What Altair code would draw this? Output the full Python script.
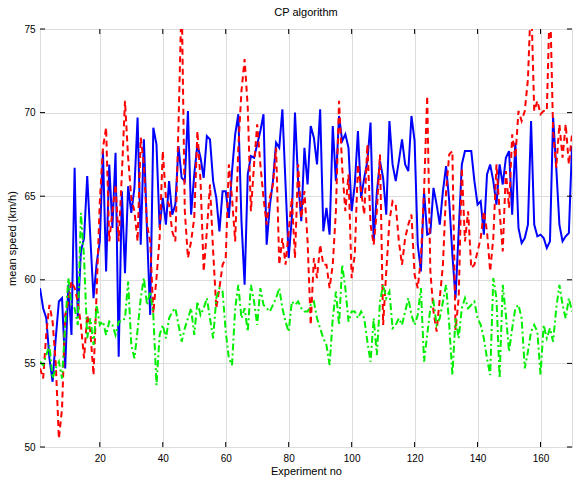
import altair as alt
import pandas as pd

blue = [59.5,58.3,57.7,55.3,53.9,56.5,58.7,58.9,54.7,59.7,
        56.7,66.7,57.7,61.7,62.5,66.2,62.5,58.9,61.0,62.3,
        67.7,60.5,66.9,63.1,67.6,55.4,65.3,60.4,65.6,64.0,
        65.5,69.7,62.1,68.4,62.9,57.9,69.1,68.1,63.1,64.9,
        63.3,65.9,63.9,64.5,68.0,66.1,65.9,70.1,63.9,66.3,
        68.1,67.3,66.1,68.6,68.4,65.9,64.9,62.9,65.3,65.3,
        63.7,66.5,68.7,69.9,63.5,59.7,66.3,67.4,67.3,68.1,
        68.9,69.9,62.1,64.4,65.9,68.2,67.9,70.2,65.7,61.3,
        63.7,70.0,65.9,63.5,67.9,65.7,69.2,68.5,66.9,70.2,
        62.9,64.3,62.7,69.2,65.9,69.8,68.3,68.7,67.9,64.1,
        65.7,68.9,64.9,66.1,67.1,69.4,62.3,65.2,67.1,66.1,
        63.9,69.5,66.9,65.9,67.1,68.4,66.9,66.5,69.8,68.3,
        62.1,60.5,65.3,62.7,62.8,65.5,64.5,63.3,65.3,66.8,
        64.7,61.5,58.9,62.9,66.9,67.7,67.7,67.7,65.9,64.5,
        64.7,62.7,66.3,66.9,65.9,64.5,66.9,65.7,67.3,67.7,
        63.9,68.2,63.1,62.2,62.5,63.3,69.5,63.3,62.6,62.7,
        62.5,61.9,62.3,69.7,66.7,63.3,62.3,62.6,62.8,68.0]

red = [54.7,54.1,56.8,58.5,57.5,55.0,50.5,52.3,57.9,58.7,
       59.9,59.5,58.7,57.3,55.3,57.9,56.9,54.3,59.3,64.7,
       67.9,69.1,62.3,64.1,65.7,62.3,66.3,70.7,67.3,64.9,
       64.1,62.3,68.5,66.9,63.3,62.3,58.0,60.1,62.5,67.7,
       64.9,64.5,62.9,62.3,69.3,77.0,64.1,61.3,62.3,63.7,
       68.9,65.9,60.5,62.9,65.7,61.7,58.3,59.5,60.9,61.3,
       66.9,64.9,62.3,67.9,71.3,73.2,70.3,64.1,66.9,69.3,
       66.9,64.9,63.3,64.9,65.7,67.9,60.9,62.5,60.9,62.9,
       64.9,61.3,66.9,63.7,65.3,62.3,57.3,61.3,60.1,62.1,
       60.9,60.9,59.5,60.9,64.1,70.7,66.7,64.1,66.3,60.1,
       61.5,66.9,65.3,63.9,68.1,63.3,62.1,64.1,67.5,57.3,
       60.5,63.5,64.7,64.5,62.3,60.9,62.5,63.3,63.9,60.3,
       59.5,61.3,65.3,71.0,60.5,58.1,56.9,58.9,60.9,65.3,
       67.5,67.7,57.0,58.9,66.7,62.3,64.1,60.7,60.9,61.7,
       62.5,64.1,62.9,60.5,62.5,66.9,64.1,61.7,66.5,64.3,
       68.7,67.3,70.1,69.5,70.1,72.0,77.0,70.1,70.7,69.9,
       70.1,70.1,77.0,68.9,66.7,69.3,67.3,69.3,66.9,68.7]

green = [55.1,54.9,55.5,56.1,54.1,54.7,55.1,54.1,57.3,60.1,
         58.5,58.3,57.3,64.0,61.3,56.5,57.7,56.1,58.5,57.3,
         57.5,56.7,57.5,57.3,56.7,57.5,57.5,57.7,59.9,56.1,
         55.3,57.0,58.9,60.1,58.5,59.3,57.9,53.7,56.7,57.3,
         56.5,57.7,58.1,58.3,57.3,56.3,57.1,57.7,58.3,56.7,
         58.7,57.9,58.3,58.9,57.7,56.5,58.9,59.5,59.3,56.9,
         55.3,54.9,58.3,59.7,57.7,58.3,56.9,59.7,58.7,57.3,
         59.5,58.5,58.3,58.1,58.5,58.9,59.5,58.3,57.5,56.9,
         58.7,58.5,58.7,58.3,58.1,58.1,58.5,58.7,57.7,57.1,
         56.5,56.1,54.9,57.7,59.3,57.3,60.9,59.5,57.5,58.1,
         58.1,57.7,58.1,57.7,56.3,55.1,57.7,55.5,58.7,59.7,
         58.9,59.3,57.1,57.3,57.7,57.3,58.1,58.9,57.9,57.3,
         57.9,59.5,55.1,56.7,58.3,58.7,57.3,57.7,58.7,59.7,
         57.3,54.3,57.7,56.5,58.3,58.9,58.3,58.5,58.7,57.7,
         57.3,56.5,55.3,54.3,60.1,58.9,54.1,59.7,57.9,55.7,
         57.1,58.3,58.5,57.7,54.7,55.7,56.9,57.3,56.9,54.3,
         57.3,56.5,57.1,56.3,58.3,59.7,58.5,57.7,58.9,58.1]

x_ticks = [20, 40, 60, 80, 100, 120, 140, 160]
y_ticks = [50, 55, 60, 65, 70, 75]

n = len(blue)
exp_no = list(range(1, n + 1))
df = pd.DataFrame({"x": exp_no, "blue": blue, "red": red, "green": green})

W, H = 532, 418
FONT = "Liberation Sans"

xs = alt.Scale(domain=[1, 170], nice=False, zero=False)
ys = alt.Scale(domain=[50, 75], nice=False, zero=False)

xaxis = alt.Axis(values=x_ticks, title="Experiment no", grid=True, tickSize=0,
                 labelPadding=6, titlePadding=2, domain=False,
                 titleFontWeight="normal", titleFont=FONT, labelFont=FONT)
yaxis = alt.Axis(values=y_ticks, title="mean speed (km/h)", grid=True, tickSize=0,
                 labelPadding=5, titlePadding=6, domain=False,
                 titleFontWeight="normal", titleFont=FONT, labelFont=FONT)

base = alt.Chart(df)

def line(col, color, dash):
    kw = dict(color=color, strokeWidth=2, clip=True)
    if dash:
        kw["strokeDash"] = dash
    return base.mark_line(**kw).encode(
        x=alt.X("x:Q", scale=xs, axis=xaxis),
        y=alt.Y(f"{col}:Q", scale=ys, axis=yaxis),
    )

l_blue = line("blue", "#0000ff", None)
l_red = line("red", "#ff0000", [6, 4])
l_green = line("green", "#00ee00", [7, 3, 2, 3])

tx = pd.DataFrame({"t": x_ticks})
ty = pd.DataFrame({"t": y_ticks})
tick_style = dict(color="black", strokeWidth=1)
xb = alt.Chart(tx).mark_rule(**tick_style).encode(x=alt.X("t:Q", scale=xs), y=alt.value(H), y2=alt.value(H - 5))
xt = alt.Chart(tx).mark_rule(**tick_style).encode(x=alt.X("t:Q", scale=xs), y=alt.value(0), y2=alt.value(5))
yl = alt.Chart(ty).mark_rule(**tick_style).encode(y=alt.Y("t:Q", scale=ys), x=alt.value(0), x2=alt.value(5))
yr = alt.Chart(ty).mark_rule(**tick_style).encode(y=alt.Y("t:Q", scale=ys), x=alt.value(W), x2=alt.value(W - 5))

chart = alt.layer(l_blue, l_red, l_green, xb, xt, yl, yr).properties(
    width=W, height=H,
    title=alt.TitleParams("CP algorithm", fontSize=11, fontWeight="normal", font=FONT, offset=6, color="black"),
    autosize=alt.AutoSizeParams(type="none"),
    padding={"left": 40, "top": 29, "right": 1, "bottom": 35},
).configure_view(stroke="black", strokeWidth=1).configure_axis(
    labelFont=FONT, titleFont=FONT, labelFontSize=11, titleFontSize=11,
    titleFontWeight="normal", labelColor="black", titleColor="black",
    gridColor="#555555", gridDash=[1, 4], gridWidth=1, gridOpacity=0.8,
).configure(background="white")

chart.save("out.html", embed_options={"renderer": "svg", "actions": False})
